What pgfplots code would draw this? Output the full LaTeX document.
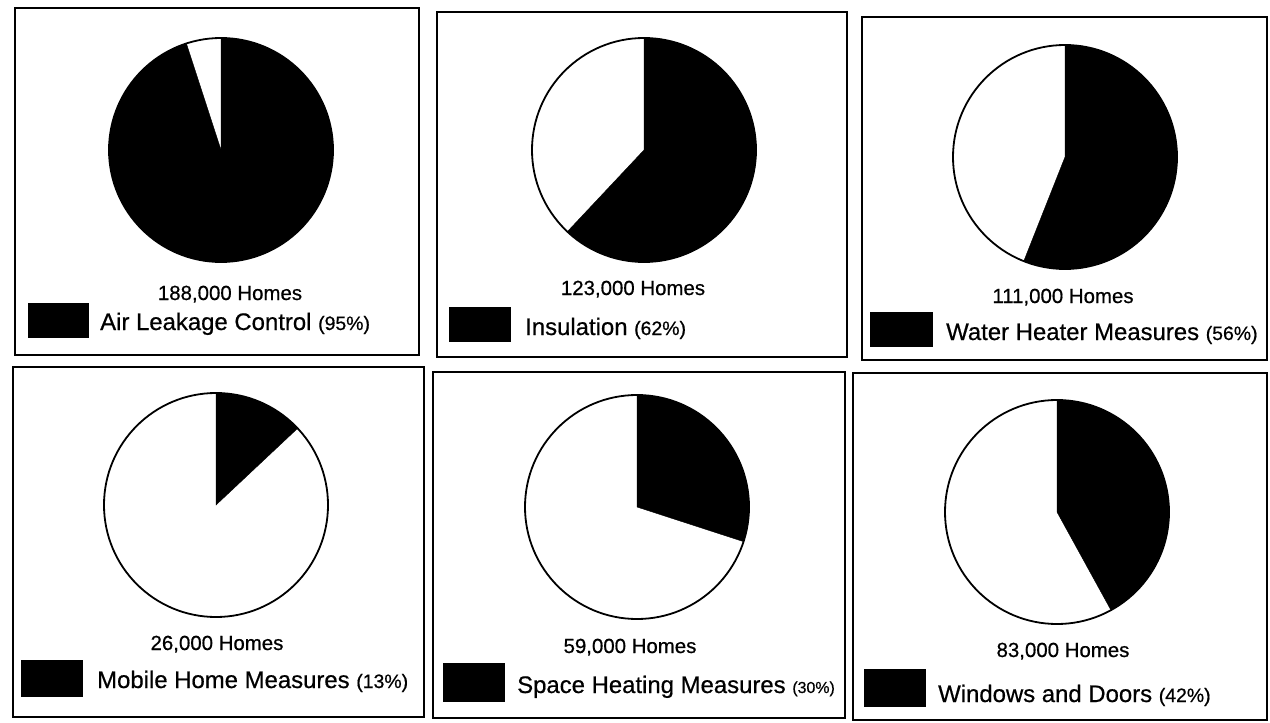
\documentclass[border=0pt]{standalone}
\usepackage{pgfplots}
\pgfplotsset{compat=1.18}
\usepackage{pgfplotstable}
\usepackage{fontspec}
\setmainfont{Liberation Sans}[FakeBold=0.6]

% pie centres (page units) and share of homes with the measure, in percent
\pgfplotstableread{
cx   cy   pct
221  150  95
644  150  62
1065 157  56
216  505  13
637  507  30
1057 512  42
}\pietable

\newcommand{\keyfont}{\fontsize{24}{28}\selectfont}
\newcommand{\smallfont}{\fontsize{20.5}{24}\selectfont}
\newcommand{\pctfont}{\fontsize{19.5}{23}\selectfont}

\begin{document}
\begin{tikzpicture}
\begin{axis}[
  scale only axis, width=1270bp, height=723bp,
  xmin=0, xmax=1270, ymin=0, ymax=723, y dir=reverse,
  hide axis, clip=false,
]
\path (axis cs:0,0) rectangle (axis cs:1270,723);

% panel frames
\draw[line width=2bp] (axis cs:15,8)    rectangle (axis cs:419,355);
\draw[line width=2bp] (axis cs:437,12)  rectangle (axis cs:847,357);
\draw[line width=2bp] (axis cs:862,17)  rectangle (axis cs:1267,360);
\draw[line width=2bp] (axis cs:13,367)  rectangle (axis cs:424,717);
\draw[line width=2bp] (axis cs:433,372) rectangle (axis cs:845,718);
\draw[line width=2bp] (axis cs:853,373) rectangle (axis cs:1267,720);

% pies: black sector runs clockwise from twelve o'clock
\addplot[only marks, mark=*, mark size=0pt, mark options={draw=none,fill=none},
  scatter,
  visualization depends on={\thisrow{pct} \as \pct},
  scatter/@pre marker code/.code={
    \fill[white] (0pt,0pt) circle[radius=112bp];
    \fill[black] (0pt,0pt) -- (90:112bp) arc[start angle=90, end angle={90-3.6*\pct}, radius=112bp] -- cycle;
    \draw[line width=1.8bp] (0pt,0pt) circle[radius=112bp];
  },
  scatter/@post marker code/.code={},
] table[x=cx, y=cy] {\pietable};

% home counts
\node[anchor=base, font=\smallfont] at (axis cs:230,300)  {188,000 Homes};
\node[anchor=base, font=\smallfont] at (axis cs:633,295)  {123,000 Homes};
\node[anchor=base, font=\smallfont] at (axis cs:1063,303) {111,000 Homes};
\node[anchor=base, font=\smallfont] at (axis cs:217,650)  {26,000 Homes};
\node[anchor=base, font=\smallfont] at (axis cs:630,653)  {59,000 Homes};
\node[anchor=base, font=\smallfont] at (axis cs:1063,657) {83,000 Homes};

% key swatches
\fill (axis cs:28,303)  rectangle (axis cs:89,338);
\fill (axis cs:449,307) rectangle (axis cs:511,342);
\fill (axis cs:870,312) rectangle (axis cs:933,347);
\fill (axis cs:21,660)  rectangle (axis cs:83,697);
\fill (axis cs:443,663) rectangle (axis cs:505,702);
\fill (axis cs:864,669) rectangle (axis cs:926,707);

% key texts
\node[anchor=base west, inner sep=0pt, font=\keyfont] at (axis cs:100,330) {Air Leakage Control {\pctfont(95\%)}};
\node[anchor=base west, inner sep=0pt, font=\keyfont] at (axis cs:525,335) {Insulation {\pctfont(62\%)}};
\node[anchor=base west, inner sep=0pt, font=\keyfont] at (axis cs:946,340) {Water Heater Measures {\pctfont(56\%)}};
\node[anchor=base west, inner sep=0pt, font=\keyfont] at (axis cs:97,688)  {Mobile Home Measures {\pctfont(13\%)}};
\node[anchor=base west, inner sep=0pt, font=\keyfont] at (axis cs:517,693) {Space Heating Measures {\fontsize{16}{19}\selectfont(30\%)}};
\node[anchor=base west, inner sep=0pt, font=\keyfont] at (axis cs:938,702) {Windows and Doors {\pctfont(42\%)}};
\end{axis}
\end{tikzpicture}
\end{document}
